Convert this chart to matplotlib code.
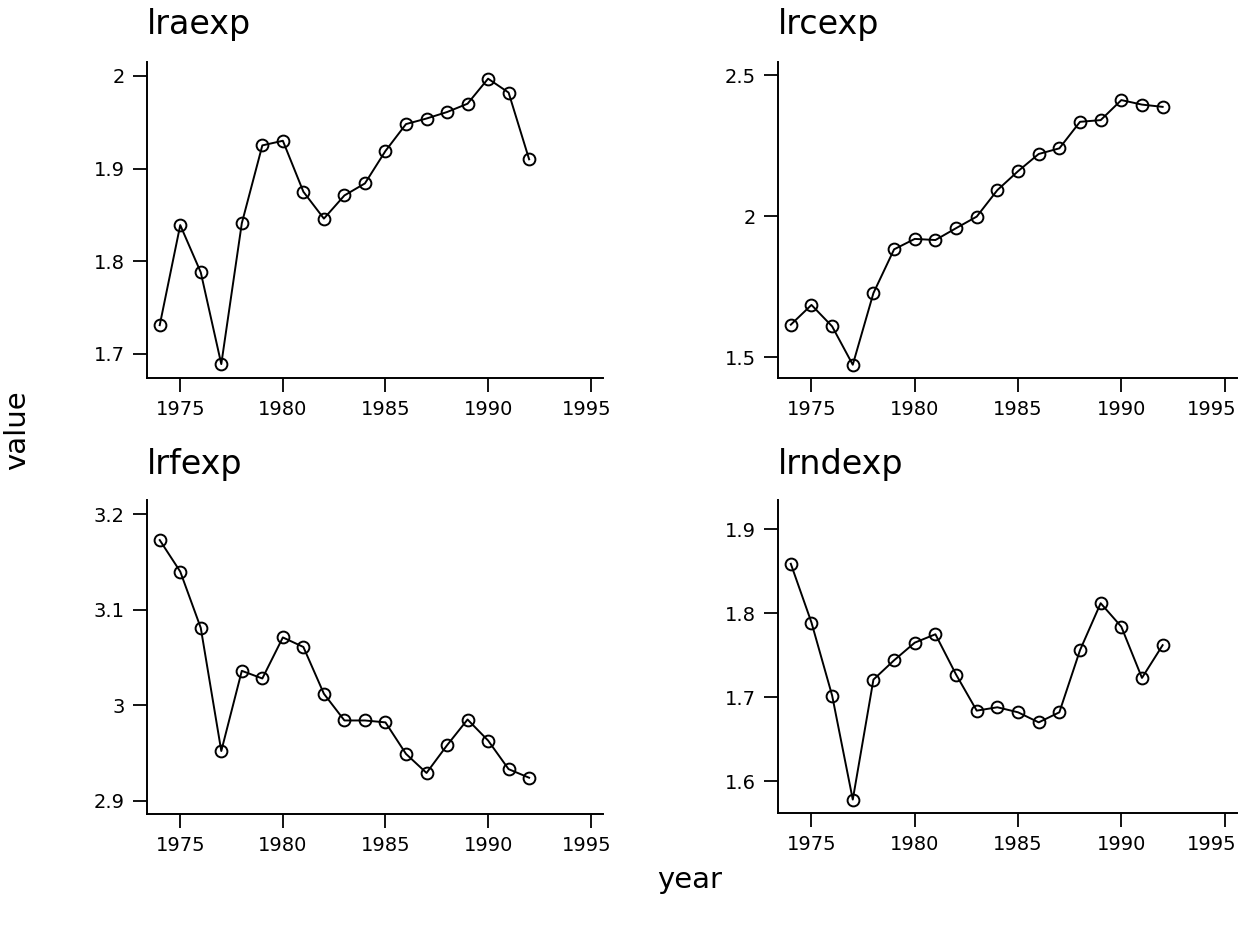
import numpy as np
import matplotlib
matplotlib.use("Agg")
import matplotlib.pyplot as plt
from matplotlib.transforms import ScaledTranslation

plt.rcParams['font.family'] = ['DejaVu Sans']

years = np.arange(1974, 1993)

lraexp = [1.731, 1.839, 1.788, 1.689, 1.841, 1.925, 1.930, 1.875, 1.846, 1.871,
          1.884, 1.919, 1.948, 1.954, 1.961, 1.970, 1.997, 1.982, 1.910]
lrcexp = [1.616, 1.686, 1.610, 1.474, 1.728, 1.883, 1.920, 1.916, 1.958, 1.999,
          2.093, 2.160, 2.221, 2.241, 2.335, 2.341, 2.412, 2.396, 2.388]
lrfexp = [3.173, 3.140, 3.081, 2.952, 3.036, 3.028, 3.071, 3.061, 3.012, 2.984,
          2.984, 2.982, 2.949, 2.929, 2.958, 2.985, 2.963, 2.933, 2.924]
lrndexp = [1.859, 1.789, 1.702, 1.578, 1.721, 1.744, 1.765, 1.775, 1.727, 1.684,
           1.688, 1.682, 1.670, 1.682, 1.756, 1.812, 1.784, 1.723, 1.762]

names = ['lraexp', 'lrcexp', 'lrfexp', 'lrndexp']
series = [lraexp, lrcexp, lrfexp, lrndexp]
yticks = [[1.7, 1.8, 1.9, 2.0], [1.5, 2.0, 2.5], [2.9, 3.0, 3.1, 3.2], [1.6, 1.7, 1.8, 1.9]]
yticklabels = [['1.7', '1.8', '1.9', '2'], ['1.5', '2', '2.5'],
               ['2.9', '3', '3.1', '3.2'], ['1.6', '1.7', '1.8', '1.9']]
ylims = [(1.674, 2.015), (1.427, 2.547), (2.886, 3.215), (1.562, 1.935)]
xticks = [1975, 1980, 1985, 1990, 1995]

W, H = 1243, 925
fig = plt.figure(figsize=(W / 100, H / 100), dpi=100)

# panel boxes in pixels: left, right, top, bottom
boxes = [(147, 603, 62, 378), (778, 1237, 62, 378),
         (147, 603, 500, 814), (778, 1237, 500, 813)]
title_base = [34, 34, 474, 474]
# the last year label is pulled in so it stays inside the panel
last_shift = [-4, -13, -4, -13]

for i in range(4):
    l, r, t, b = boxes[i]
    ax = fig.add_axes([l / W, 1 - b / H, (r - l) / W, (b - t) / H])
    ax.plot(years, series[i], color='black', lw=1.4, marker='o', ms=8.5,
            mfc='none', mec='black', mew=1.4)
    ax.set_xlim(1973.38, 1995.6)
    ax.set_ylim(*ylims[i])
    ax.set_xticks(xticks)
    ax.set_yticks(yticks[i])
    ax.set_yticklabels(yticklabels[i])
    for s in ['top', 'right']:
        ax.spines[s].set_visible(False)
    for s in ['left', 'bottom']:
        ax.spines[s].set_linewidth(1.4)
    ax.tick_params(length=10, width=1.3, labelsize=14, pad=6)
    lab = ax.xaxis.get_major_ticks()[-1].label1
    lab.set_transform(lab.get_transform() +
                      ScaledTranslation(last_shift[i] / 100, 0, fig.dpi_scale_trans))
    fig.text(l / W, 1 - title_base[i] / H, names[i], fontsize=24,
             ha='left', va='baseline')

fig.text(17 / W, 1 - 430 / H, 'value', fontsize=21, rotation=90,
         ha='center', va='center')
fig.text(690 / W, 1 - 880 / H, 'year', fontsize=21, ha='center', va='center')

fig.savefig('out.png', dpi=100, facecolor='white')
